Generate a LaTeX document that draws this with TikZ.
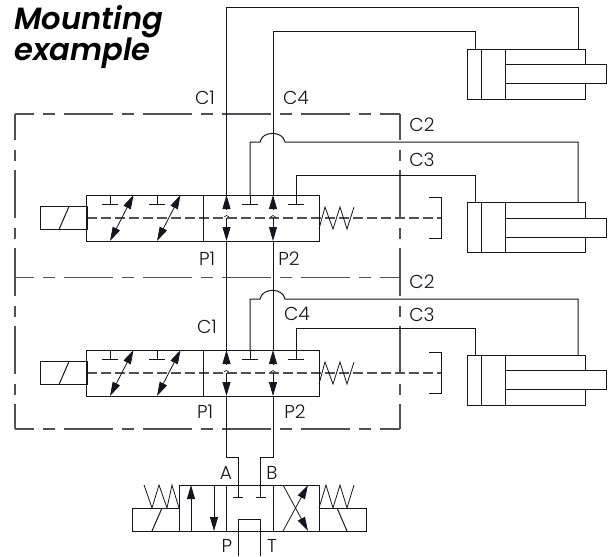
\documentclass[tikz,border=0pt]{standalone}
\usepackage{fontspec}
\setmainfont{Poppins Light}
\newfontfamily\titlefont{Poppins SemiBold Italic}
\usetikzlibrary{arrows.meta, positioning}
\definecolor{inkline}{HTML}{15151F}
\tikzset{
  pipe/.style={draw=inkline, line width=0.75pt},
  thinpipe/.style={draw=inkline, line width=0.6pt},
  flowarrow/.style={thinpipe, -{Triangle[length=10.5pt,width=6pt]}},
  bothflow/.style={thinpipe, {Triangle[length=10.5pt,width=6pt]}-{Triangle[length=10.5pt,width=6pt]}},
  boxline/.style={draw=inkline!75, line width=0.9pt, dash pattern=on 36.75pt off 6.75pt on 9pt off 6.75pt, dash phase=22.5pt},
  sideline/.style={draw=inkline!75, line width=0.9pt, dash pattern=on 36pt off 7.5pt on 8.25pt off 6.75pt, dash phase=16.5pt},
  midline/.style={draw=inkline!75, line width=0.8pt, dash pattern=on 7.5pt off 3pt},
  valvebody/.style={rectangle, pipe, inner sep=0pt, outer sep=0pt, minimum width=174.4pt, minimum height=34.5pt},
  coilbox/.style={rectangle, pipe, inner sep=0pt, outer sep=0pt, minimum width=35.25pt, minimum height=17.25pt},
  cylbody/.style={rectangle, pipe, inner sep=0pt, outer sep=0pt, minimum width=88.5pt, minimum height=37.5pt},
  cylrod/.style={rectangle, pipe, fill=white, inner sep=0pt, outer sep=0pt, minimum width=75.75pt, minimum height=14.25pt},
  portlabel/.style={anchor=base, inner sep=0pt, font=\fontsize{14}{14}\selectfont, text=inkline},
  titlelabel/.style={anchor=base west, inner sep=0pt, font=\fontsize{23}{23}\selectfont\titlefont}
}
\begin{document}
\begin{tikzpicture}[x=0.75pt, y=-0.75pt]
\useasboundingbox (0,0) rectangle (609,556);

% Title
\node[titlelabel] (title1) at (14,30) {Mounting};
\node[titlelabel] (title2) at (14,61) {example};

% Dashed block outline
\draw[boxline] (15,114) -- (400,114);
\draw[boxline] (15,277.5) -- (400,277.5);
\draw[boxline] (15,429) -- (400,429);
\draw[sideline] (15,114) -- (15,429);
\draw[sideline] (400,114) -- (400,429);

% Two proportional valves
\foreach \n/\y in {1/218, 2/373} {
  \draw[midline] (87,\y) -- (441.5,\y);
  \node[valvebody] (valve\n) at (203.25,\y) {};
  \node[coilbox] (coil\n) at (63.5,\y) {};
  \draw[pipe] (59,\y+11.5) -- (69,\y-11.5);
  \draw[pipe] (203,\y-23) -- (203,\y+23);
  \draw[thinpipe] (319,\y+11) -- (325,\y-11) -- (333,\y+11) -- (340,\y-11) -- (347,\y+11) -- (354,\y-11);
  \draw[pipe] (429,\y-21) -- (441.5,\y-21) -- (441.5,\y+20) -- (429,\y+20);
  \foreach \t in {110,157,250,296} {
    \draw[pipe] (\t,\y-23) -- (\t,\y-14);
    \draw[pipe] (\t-8,\y-14) -- (\t+8,\y-14);
  }
  \draw[bothflow] (110,\y+23) -- (133.5,\y-23);
  \draw[bothflow] (157,\y+23) -- (180.5,\y-23);
  \foreach \p in {226.5,273} {
    \draw[flowarrow] (\p,\y-9) -- (\p,\y-23);
    \draw[flowarrow] (\p,\y) -- (\p,\y+23);
    \draw[thinpipe, line width=0.45pt] (\p-2.5,\y-1) .. controls (\p-1.5,\y-3) and (\p+1.5,\y-3) .. (\p+2.5,\y-1);
  }
}

% Cylinders
\foreach \n/\y/\r in {1/50/65, 2/202/218, 3/355/370} {
  \node[cylbody, anchor=north west] (cyl\n) at (467,\y) {};
  \node[cylrod, anchor=north west] (rod\n) at (505,\r) {};
  \draw[pipe] (481,\y) -- (481,\y+50);
  \draw[pipe] (505,\y) -- (505,\y+50);
  \coordinate (cyl\n a) at (475,\y);
  \coordinate (cyl\n b) at (578,\y);
}

% Main valve
\node[valvebody, minimum width=105pt] (mainvalve) at (249,508) {};
\node[coilbox, anchor=north east] (coilL) at (mainvalve.west|-0,508) {};
\node[coilbox, anchor=north west] (coilR) at (mainvalve.east|-0,508) {};
\draw[pipe] (226,485) -- (226,531);
\draw[pipe] (273,485) -- (273,531);
\draw[pipe] (152,531) -- (162,508);
\draw[pipe] (337,508) -- (347,531);
\draw[thinpipe] (144,485) -- (152,508) -- (159,485) -- (167,508) -- (172,485) -- (179,508);
\draw[thinpipe] (319,508) -- (326,485) -- (333,508) -- (340,485) -- (347,508) -- (354,485);
\draw[flowarrow] (191,531) -- (191,485);
\draw[flowarrow] (214,485) -- (214,531);
\draw[flowarrow] (283,485) -- (308,531);
\draw[flowarrow] (283,531) -- (308,485);

% Port coordinates
\coordinate (portA) at (238,497);
\coordinate (portB) at (260.5,497);
\coordinate (portP) at (238,556);
\coordinate (portT) at (260.5,556);

% Lines to first cylinder
\draw[pipe] (cyl1b) -- (578,8) -- (226.5,8) -- (226.5,195);
\draw[pipe] (cyl1a) -- (475,32) -- (273,32) -- (273,195);
\draw[pipe] (226.5,241) -- (226.5,350);
\draw[pipe] (273,241) -- (273,350);
\draw[pipe] (226.5,396) -- (226.5,457) -- (238,457) -- (portA);
\draw[pipe] (273,396) -- (273,457) -- (260.5,457) -- (portB);
\draw[pipe] (233,497) -- (243,497);
\draw[pipe] (255.5,497) -- (265.5,497);
\draw[pipe] (portP) -- (238,519) -- (260.5,519) -- (portT);

% Lines to second and third cylinder
\draw[pipe] (250,195) -- (250,142) -- (260,142) .. controls (262,130.5) and (283,130.5) .. (285,142) -- (578,142) -- (cyl2b);
\draw[pipe] (296,195) -- (296,175) -- (475,175) -- (cyl2a);
\draw[pipe] (250,350) -- (250,299) -- (260,299) .. controls (262,287.5) and (283,287.5) .. (285,299) -- (578,299) -- (cyl3b);
\draw[pipe] (296,350) -- (296,328) -- (475,328) -- (cyl3a);

% Labels
\node[portlabel] (lblC1a) at (205,105) {C1};
\node[portlabel] (lblC4a) at (296,105) {C4};
\node[portlabel] (lblC2a) at (422,132) {C2};
\node[portlabel] (lblC3a) at (422,166) {C3};
\node[portlabel] (lblP1a) at (207,265) {P1};
\node[portlabel] (lblP2a) at (289,265) {P2};
\node[portlabel] (lblC2b) at (422,288) {C2};
\node[portlabel] (lblC3b) at (422,321) {C3};
\node[portlabel] (lblC1b) at (207,333) {C1};
\node[portlabel] (lblC4b) at (297,320) {C4};
\node[portlabel] (lblP1b) at (205,418) {P1};
\node[portlabel] (lblP2b) at (295,418) {P2};
\node[portlabel] (lblA) at (226,479) {A};
\node[portlabel] (lblB) at (272,479) {B};
\node[portlabel] (lblP) at (227,552) {P};
\node[portlabel] (lblT) at (272,552) {T};
\end{tikzpicture}
\end{document}
